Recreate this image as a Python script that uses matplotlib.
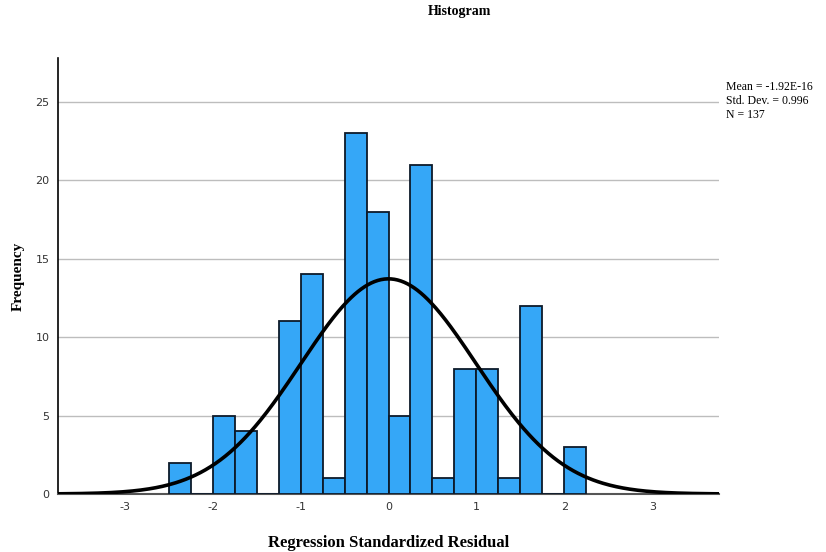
import numpy as np
import matplotlib
matplotlib.use('Agg')
import matplotlib.pyplot as plt

# =============================================================================
# Regression Standardized Residual: Histogram with Normal Curve
# =============================================================================
BIN_EDGES = [-2.5, -2.25, -2.0, -1.75, -1.5, -1.25, -1.0, -0.75, -0.5, -0.25,
             0.0, 0.25, 0.5, 0.75, 1.0, 1.25, 1.5, 1.75, 2.0, 2.25]
COUNTS = [2, 0, 5, 4, 0, 11, 14, 1, 23, 18, 5, 21, 1, 8, 8, 1, 12, 0, 3]
MEAN = -1.92e-16
STD = 0.996
N = 137
X_TICKS = [-3, -2, -1, 0, 1, 2, 3]
Y_TICKS = [0, 5, 10, 15, 20, 25]

SERIF = ['Liberation Serif', 'DejaVu Serif']
plt.rcParams['axes.unicode_minus'] = False

fig = plt.figure(figsize=(8.26, 5.52), dpi=100)
ax = fig.add_axes([0.0702, 0.1051, 0.8003, 0.7898])

edges = np.array(BIN_EDGES)
widths = np.diff(edges)
ax.bar(edges[:-1], COUNTS, width=widths, align='edge',
       color='#35a7f7', edgecolor='#0d1a2a', linewidth=1.3, zorder=3)

# normal curve scaled to counts
bw = widths[0]
x = np.linspace(-3.76, 3.76, 400)
y = N * bw / (STD * np.sqrt(2 * np.pi)) * np.exp(-0.5 * ((x - MEAN) / STD) ** 2)
ax.plot(x, y, color='black', linewidth=2.6, zorder=4, solid_capstyle='round')

ax.set_xlim(-3.76, 3.76)
ax.set_ylim(0, 27.8)
ax.set_xticks(X_TICKS)
ax.set_yticks(Y_TICKS)
ax.tick_params(length=0, labelsize=8, colors='#333333', pad=6)
ax.yaxis.grid(True, color='#bdbdbd', linewidth=1, zorder=0)
ax.set_axisbelow(True)

for side in ['top', 'right']:
    ax.spines[side].set_visible(False)
ax.spines['left'].set_color('black')
ax.spines['left'].set_linewidth(1.2)
ax.spines['bottom'].set_color('#555555')
ax.spines['bottom'].set_linewidth(1.5)

ax.set_xlabel('Regression Standardized Residual', family=SERIF,
              fontweight='bold', fontsize=12, labelpad=16)
ax.set_ylabel('Frequency', family=SERIF, fontweight='bold', fontsize=11,
              labelpad=8)
fig.text(459 / 826, 1 - 12 / 552, 'Histogram', family=SERIF,
         fontweight='bold', fontsize=10, ha='center', va='center')

fig.text(726 / 826, 1 - 81 / 552,
         'Mean = -1.92E-16\nStd. Dev. = 0.996\nN = 137',
         family=SERIF, fontsize=8.5, ha='left', va='top', linespacing=1.2)

plt.savefig('out.png', dpi=100)
